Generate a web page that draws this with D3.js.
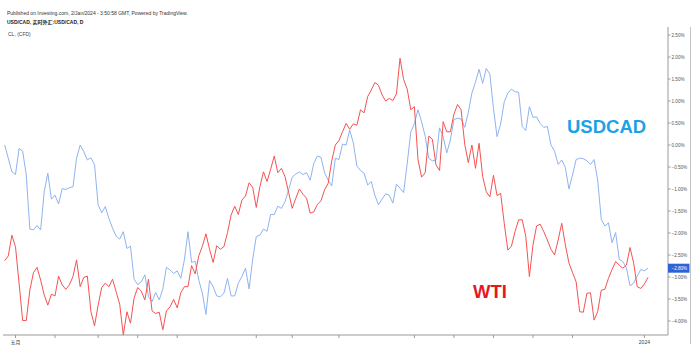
<!DOCTYPE html>
<html>
<head>
<meta charset="utf-8">
<script src="https://cdn.jsdelivr.net/npm/d3@7"></script>
<style>
  body { margin: 0; background: #fff; }
  svg { display: block; font-family: "Liberation Sans", Arial, sans-serif; }
</style>
</head>
<body>
<svg id="chart" width="698" height="356"></svg>
<script>
// % change, one value per trading day (day 0 = late April 2023, last = 2 Jan 2024)
const usdcad = [
  0.00, -0.30, -0.61, -0.67, -0.08, -0.14, -0.68, -1.91, -1.93, -1.83,
  -1.93, -1.06, -0.64, -1.23, -1.14, -1.34, -0.99, -1.01, -0.97, -0.95,
  -0.30, 0.00, -0.15, -0.34, -0.29, -0.45, -1.36, -1.54, -1.40, -1.67,
  -1.89, -2.07, -2.14, -1.97, -2.35, -2.30, -3.05, -3.17, -3.11, -2.95,
  -3.45, -3.56, -3.35, -3.52, -3.27, -2.78, -2.84, -2.92, -2.86, -3.03,
  -2.61, -1.97, -2.67, -2.64, -3.07, -3.37, -3.85, -3.08, -3.22, -3.43,
  -3.45, -3.37, -3.03, -3.43, -3.43, -3.14, -2.99, -2.80, -3.27, -2.60,
  -2.08, -2.05, -1.91, -1.96, -1.58, -1.58, -1.39, -1.44, -1.29, -1.02,
  -0.73, -0.66, -0.61, -0.67, -0.63, -0.80, -0.42, -0.25, -0.28, -0.63,
  -0.80, -0.93, -0.30, -0.33, 0.02, 0.00, 0.34, 0.05, -0.48, -0.58,
  -0.64, -0.91, -0.83, -1.14, -1.36, -1.23, -1.11, -1.14, -1.32, -0.89,
  -0.98, -1.08, -0.42, 0.30, 0.49, 0.80, 0.53, 0.20, -0.30, -0.36,
  -0.34, 0.39, 0.19, -0.18, 0.11, 0.58, 0.61, 0.59, 0.40, 0.74,
  1.18, 1.43, 1.72, 1.40, 1.74, 1.61, 0.83, 0.19, 0.48, 0.98,
  1.18, 1.27, 1.21, 1.20, 0.42, 0.33, 0.87, 0.63, 0.64, 0.49,
  0.40, 0.42, 0.00, -0.14, -0.44, -0.34, -0.51, -1.00, -0.68, -0.33,
  -0.30, -0.31, -0.36, -0.44, -0.33, -0.80, -1.69, -1.84, -1.77, -2.22,
  -1.99, -2.60, -2.65, -2.79, -3.20, -3.14, -2.98, -2.83, -2.86, -2.80
];

const wti = [
  -2.63, -2.52, -2.05, -2.31, -3.14, -3.99, -3.99, -3.30, -2.90, -2.78,
  -3.07, -3.41, -3.64, -3.39, -3.43, -2.98, -3.18, -3.28, -3.18, -2.99,
  -2.61, -3.22, -3.01, -2.98, -3.79, -4.11, -3.64, -3.24, -3.14, -3.22,
  -3.05, -3.33, -3.62, -4.32, -3.79, -4.05, -3.48, -3.24, -3.32, -3.52,
  -3.05, -3.77, -3.83, -3.80, -4.20, -3.77, -3.68, -3.51, -3.70, -3.36,
  -3.22, -3.22, -2.74, -2.93, -2.52, -2.30, -2.02, -2.37, -2.67, -2.29,
  -2.37, -2.31, -1.99, -1.59, -1.39, -1.58, -1.25, -1.16, -0.86, -0.96,
  -1.42, -0.95, -0.61, -0.83, -0.55, -0.25, -0.63, -0.53, -0.72, -1.08,
  -1.44, -1.21, -1.00, -1.12, -1.21, -1.55, -1.52, -1.35, -1.27, -1.02,
  -0.87, -0.36, 0.00, 0.10, 0.30, 0.49, 0.36, 0.48, 0.45, 0.80,
  0.73, 1.10, 1.25, 1.42, 1.36, 1.14, 1.00, 1.06, 1.01, 1.16,
  1.97, 1.49, 1.27, 0.80, 0.87, -0.33, -0.73, -0.63, 0.20, 0.13,
  -0.45, -0.58, 0.53, 0.30, 0.30, 0.70, 0.92, 0.80, 0.02, -0.40,
  0.00, -0.53, 0.04, -0.72, -1.06, -1.18, -0.69, -1.15, -1.10, -1.78,
  -2.39, -2.30, -1.97, -1.70, -1.70, -2.08, -2.99, -2.27, -1.84, -1.80,
  -1.97, -2.16, -2.37, -2.50, -2.16, -1.78, -2.27, -2.68, -2.90, -3.11,
  -3.79, -3.80, -3.37, -3.36, -3.98, -3.79, -3.30, -3.28, -3.03, -2.83,
  -2.65, -2.73, -2.80, -2.73, -2.33, -2.68, -3.22, -3.26, -3.16, -3.01
];

// half-month ticks on the time axis (day index), only two carry labels
const xTickDays = [3, 14, 26, 37, 48, 70, 80, 93, 114, 125, 136, 147, 158, 178];
const xTickLabels = {3: "五月", 178: "2024"};
const yTicks = [2.5, 2, 1.5, 1, 0.5, 0, -0.5, -1, -1.5, -2, -2.5, -3, -3.5, -4];
const lastValue = -2.80;

const headerLines = [
  "Published on Investing.com, 2/Jan/2024 - 3:50:58 GMT, Powered by TradingView.",
  "USD/CAD, 实时外汇:USD/CAD, D",
  "CL,  (CFD)"
];

const svg = d3.select("#chart");
const plotRight = 668;
const plotBottom = 335;

const x = d3.scaleLinear().domain([0, usdcad.length - 1]).range([4.7, 648]);
const y = d3.scaleLinear().domain([-4, 2.5]).range([321, 35]);

// header
svg.append("text").attr("x", 7).attr("y", 14.5)
  .attr("font-size", 5).attr("fill", "#333").text(headerLines[0]);
svg.append("text").attr("x", 7).attr("y", 24)
  .attr("font-size", 5).attr("font-weight", "bold").attr("fill", "#222")
  .style("font-family", "'Liberation Sans', 'Noto Sans CJK SC', sans-serif")
  .text(headerLines[1]);
svg.append("text").attr("x", 8).attr("y", 36)
  .attr("font-size", 5).attr("fill", "#444").text(headerLines[2]);

// lines
const line = d3.line().x((d, i) => x(i)).y(d => y(d));

svg.append("path").datum(usdcad)
  .attr("fill", "none").attr("stroke", "#8fb3ef").attr("stroke-width", 1)
  .attr("d", line);

svg.append("path").datum(wti)
  .attr("fill", "none").attr("stroke", "#f55252").attr("stroke-width", 1)
  .attr("d", line);

// series labels
svg.append("text").attr("x", 567).attr("y", 133)
  .attr("font-size", 18.5).attr("font-weight", "bold").attr("fill", "#1ca2e6")
  .text("USDCAD");
svg.append("text").attr("x", 473).attr("y", 298)
  .attr("font-size", 18.5).attr("font-weight", "bold").attr("fill", "#e8171f")
  .text("WTI");

// bottom axis
const xAxis = svg.append("g").attr("transform", `translate(0,${plotBottom})`);
xAxis.append("line").attr("x1", 3).attr("x2", plotRight)
  .attr("stroke", "#9a9a9a").attr("stroke-width", 1);
xAxis.selectAll("line.tick").data(xTickDays).join("line")
  .attr("class", "tick")
  .attr("x1", d => x(d)).attr("x2", d => x(d))
  .attr("y1", 0).attr("y2", 3)
  .attr("stroke", "#9a9a9a");
xAxis.selectAll("text").data(xTickDays.filter(d => xTickLabels[d])).join("text")
  .attr("x", d => x(d)).attr("y", 9)
  .attr("text-anchor", "middle").attr("font-size", 5).attr("fill", "#444")
  .style("font-family", "'Liberation Sans', 'Noto Sans CJK SC', sans-serif")
  .text(d => xTickLabels[d]);

// right axis
const yAxis = svg.append("g");
yAxis.append("line").attr("x1", plotRight).attr("x2", plotRight)
  .attr("y1", 27).attr("y2", plotBottom)
  .attr("stroke", "#9a9a9a").attr("stroke-width", 1);
yAxis.append("line").attr("x1", 690.5).attr("x2", 690.5)
  .attr("y1", 27).attr("y2", 344)
  .attr("stroke", "#c4c4c4").attr("stroke-width", 1);
yAxis.selectAll("line.tick").data(yTicks).join("line")
  .attr("class", "tick")
  .attr("x1", plotRight).attr("x2", plotRight + 2.5)
  .attr("y1", d => y(d)).attr("y2", d => y(d))
  .attr("stroke", "#9a9a9a");
yAxis.selectAll("text").data(yTicks).join("text")
  .attr("x", plotRight + 3.5).attr("y", d => y(d) + 1.6)
  .attr("font-size", 4.6).attr("fill", "#555")
  .text(d => d3.format(".2f")(d) + "%");

// last value marker
const last = svg.append("g").attr("transform", `translate(${plotRight},${y(lastValue)})`);
last.append("rect").attr("x", 0).attr("y", -4.5).attr("width", 21.5).attr("height", 9)
  .attr("fill", "#2e63d6");
last.append("text").attr("x", 3.5).attr("y", 1.7)
  .attr("font-size", 4.6).attr("fill", "#fff").text(d3.format(".2f")(lastValue) + "%");
</script>
</body>
</html>
